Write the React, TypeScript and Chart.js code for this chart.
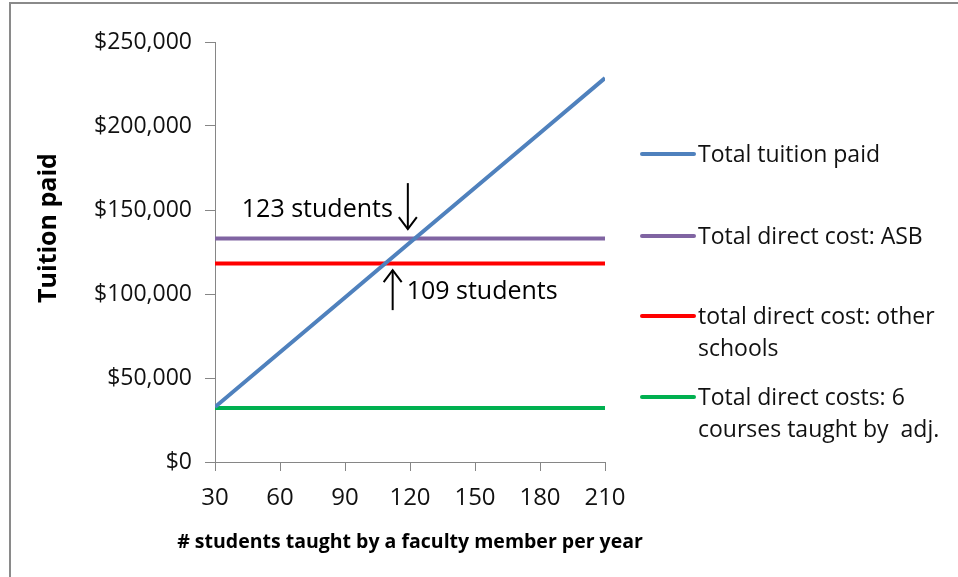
import React, { useEffect, useRef } from 'react';
import { Chart, registerables } from 'chart.js';

Chart.register(...registerables);

// ---- data ----
const students = [30, 60, 90, 120, 150, 180, 210];
const tuitionPaid = [32700, 65300, 97900, 130600, 163200, 195800, 228500];
const costASB = [133100, 133100, 133100, 133100, 133100, 133100, 133100];
const costOtherSchools = [118200, 118200, 118200, 118200, 118200, 118200, 118200];
const costAdjunct = [32100, 32100, 32100, 32100, 32100, 32100, 32100];

const seriesLabels = [
  ['Total tuition paid'],
  ['Total direct cost: ASB'],
  ['total direct cost: other', 'schools'],
  ['Total direct costs: 6', 'courses taught by  adj.'],
];
const seriesColors = ['#4F81BD', '#8064A2', '#FF0000', '#00B050'];

const xTickValues = [30, 60, 90, 120, 150, 180, 210];
const yTickValues = [0, 50000, 100000, 150000, 200000, 250000];

const xTitle = '# students taught by a faculty member per year';
const yTitle = 'Tuition paid';

// annotation texts and the break-even counts they point to
const annotationLabels = ['123 students', '109 students'];
const breakEvenStudents = [123, 109];

const FONT = "'Open Sans', sans-serif";

const overlayPlugin = {
  id: 'overlay',
  beforeDraw(chart: any) {
    const ctx = chart.ctx;
    ctx.save();
    ctx.fillStyle = '#ffffff';
    ctx.fillRect(0, 0, chart.width, chart.height);
    ctx.strokeStyle = '#8a8a8a';
    ctx.lineWidth = 2;
    ctx.beginPath();
    ctx.moveTo(10, chart.height);
    ctx.lineTo(10, 3);
    ctx.lineTo(chart.width, 3);
    ctx.stroke();
    ctx.restore();
  },
  afterDraw(chart: any) {
    const { ctx } = chart;
    const xs = chart.scales.x;
    const ys = chart.scales.y;
    ctx.save();

    // axis titles
    ctx.fillStyle = '#000';
    ctx.font = `bold 19.5px ${FONT}`;
    ctx.textAlign = 'center';
    ctx.textBaseline = 'alphabetic';
    ctx.fillText(xTitle, (chart.chartArea.left + chart.chartArea.right) / 2, 548);

    ctx.save();
    ctx.translate(56, 228);
    ctx.rotate(-Math.PI / 2);
    ctx.font = `bold 25px ${FONT}`;
    ctx.fillText(yTitle, 0, 0);
    ctx.restore();

    // legend
    const rowY = [154, 236, 316, 397];
    chart.data.datasets.forEach((ds: any, i: number) => {
      const yy = rowY[i];
      ctx.strokeStyle = ds.borderColor;
      ctx.lineWidth = 4;
      ctx.lineCap = 'round';
      ctx.beginPath();
      ctx.moveTo(642, yy);
      ctx.lineTo(694, yy);
      ctx.stroke();
      ctx.fillStyle = '#111';
      ctx.font = `23px ${FONT}`;
      ctx.textAlign = 'left';
      ctx.textBaseline = 'alphabetic';
      const lines: string[] = seriesLabels[i];
      lines.forEach((t, k) => ctx.fillText(t, 698, yy + 8 + k * 32));
    });

    // annotations with arrows
    const drawArrow = (px: number, yFrom: number, yTo: number) => {
      ctx.strokeStyle = '#000';
      ctx.lineWidth = 2;
      ctx.lineCap = 'butt';
      ctx.beginPath();
      ctx.moveTo(px, yFrom);
      ctx.lineTo(px, yTo);
      ctx.stroke();
      const dir = yTo > yFrom ? 1 : -1;
      ctx.beginPath();
      ctx.moveTo(px - 9, yTo - dir * 12);
      ctx.lineTo(px, yTo);
      ctx.lineTo(px + 9, yTo - dir * 12);
      ctx.stroke();
    };
    ctx.fillStyle = '#000';
    ctx.font = `25px ${FONT}`;
    ctx.textBaseline = 'middle';

    // 123 students: down arrow onto the ASB line
    const ax1 = xs.getPixelForValue(breakEvenStudents[0] - 4);
    drawArrow(ax1, ys.getPixelForValue(166000), ys.getPixelForValue(138600));
    ctx.textAlign = 'right';
    ctx.fillText(annotationLabels[0], ax1 - 15, ys.getPixelForValue(150000));

    // 109 students: up arrow onto the other-schools line
    const ax2 = xs.getPixelForValue(breakEvenStudents[1] + 3);
    drawArrow(ax2, ys.getPixelForValue(90400), ys.getPixelForValue(114200));
    ctx.textAlign = 'left';
    ctx.fillText(annotationLabels[1], ax2 + 14, ys.getPixelForValue(101000));

    ctx.restore();
  },
};

export default function App() {
  const ref = useRef<HTMLCanvasElement | null>(null);

  useEffect(() => {
    if (!ref.current) return;
    const mk = (vals: number[]) => students.map((s, i) => ({ x: s, y: vals[i] }));
    const series = [tuitionPaid, costASB, costOtherSchools, costAdjunct];
    const chart = new Chart(ref.current, {
      type: 'line',
      data: {
        datasets: series.map((vals, i) => ({
          label: seriesLabels[i].join(' '),
          data: mk(vals),
          borderColor: seriesColors[i],
          backgroundColor: seriesColors[i],
          borderWidth: 4,
          pointRadius: 0,
          tension: 0,
          fill: false,
        })),
      },
      options: {
        responsive: false,
        animation: false,
        devicePixelRatio: 1,
        layout: { padding: { left: 0, top: 42, right: 353, bottom: 0 } },
        plugins: {
          legend: { display: false },
          tooltip: { enabled: false },
          title: { display: false },
        },
        scales: {
          x: {
            type: 'linear',
            min: 30,
            max: 210,
            afterFit: (s: any) => { s.height = 115; },
            afterBuildTicks: (s: any) => { s.ticks = xTickValues.map((v) => ({ value: v })); },
            border: { display: true, color: '#868686', width: 1 },
            grid: { drawOnChartArea: false, drawTicks: true, tickLength: 9, color: '#868686' },
            ticks: {
              font: { family: FONT, size: 24 },
              color: '#111',
              padding: 13,
              maxRotation: 0,
            },
          },
          y: {
            type: 'linear',
            min: 0,
            max: 250000,
            afterFit: (s: any) => { s.width = 215; },
            afterBuildTicks: (s: any) => { s.ticks = yTickValues.map((v) => ({ value: v })); },
            border: { display: true, color: '#868686', width: 1 },
            grid: { drawOnChartArea: false, drawTicks: true, tickLength: 10, color: '#868686' },
            ticks: {
              font: { family: FONT, size: 23 },
              color: '#111',
              padding: 13,
              callback: (v: any) => '$' + Number(v).toLocaleString('en-US'),
            },
          },
        },
      },
      plugins: [overlayPlugin],
    });
    return () => chart.destroy();
  }, []);

  return (
    <div style={{ position: 'absolute', left: 0, top: 0, width: 958, height: 577, background: '#fff' }}>
      <canvas ref={ref} width={958} height={577} style={{ width: 958, height: 577, display: 'block' }} />
    </div>
  );
}
